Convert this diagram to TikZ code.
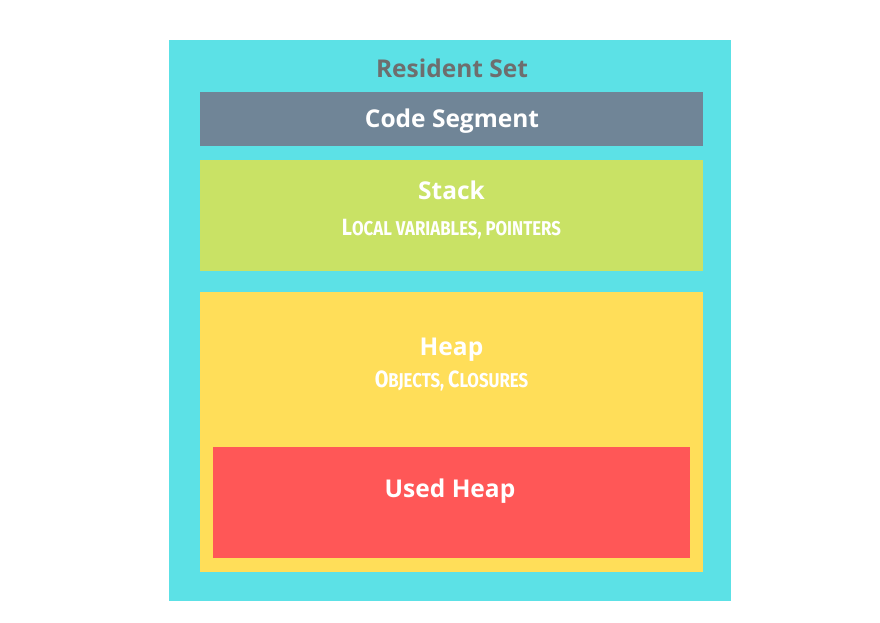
\documentclass[tikz,border=0pt]{standalone}
\usepackage{fontspec}
\setmainfont{Open Sans}
\newfontfamily\subfont{Fira Sans}
\newcommand\smallpart[1]{{\fontsize{20}{20}\selectfont #1}}
\definecolor{rcyan}{HTML}{5CE1E6}
\definecolor{rslate}{HTML}{708597}
\definecolor{rgreen}{HTML}{C9E265}
\definecolor{ryellow}{HTML}{FFDE59}
\definecolor{rred}{HTML}{FF5757}
\definecolor{rgraytext}{HTML}{6E6E6E}
\begin{document}
\begin{tikzpicture}[x=1pt,y=-1pt,
  region/.style={draw=none,inner sep=0pt,outer sep=0pt,rectangle},
  title/.style={font=\fontsize{24.5}{24.5}\bfseries\selectfont,text=white,inner sep=0pt,anchor=base},
  subtitle/.style={font=\fontsize{23.5}{23.5}\subfont\bfseries\selectfont,text=white,inner sep=0pt,anchor=base}]
\useasboundingbox[fill=white] (0,0) rectangle (880,622);
\node[region,fill=rcyan,minimum width=562pt,minimum height=561pt] (rs) at (450,320.5) {};
\node[region,fill=rslate,minimum width=503pt,minimum height=54pt] (code) at (451.5,119) {};
\node[region,fill=rgreen,minimum width=503pt,minimum height=111pt] (stack) at (451.5,215.5) {};
\node[region,fill=ryellow,minimum width=503pt,minimum height=280pt] (heap) at (451.5,432) {};
\node[region,fill=rred,minimum width=477pt,minimum height=111pt] (used) at (451.5,502.5) {};
\node[title,text=rgraytext] (rslabel) at (452,77) {Resident Set};
\node[title] (codelabel) at (452,127) {Code Segment};
\node[title] (stacklabel) at (451.5,199.5) {Stack};
\node[subtitle] (stacksub) at (451.5,235) {\scalebox{0.84}[1]{L\smallpart{OCAL VARIABLES, POINTERS}}};
\node[title] (heaplabel) at (451.5,355) {Heap};
\node[subtitle] (heapsub) at (451.5,387.5) {\scalebox{0.84}[1]{O\smallpart{BJECTS, }C\smallpart{LOSURES}}};
\node[title] (usedlabel) at (450,497) {Used Heap};
\end{tikzpicture}
\end{document}
